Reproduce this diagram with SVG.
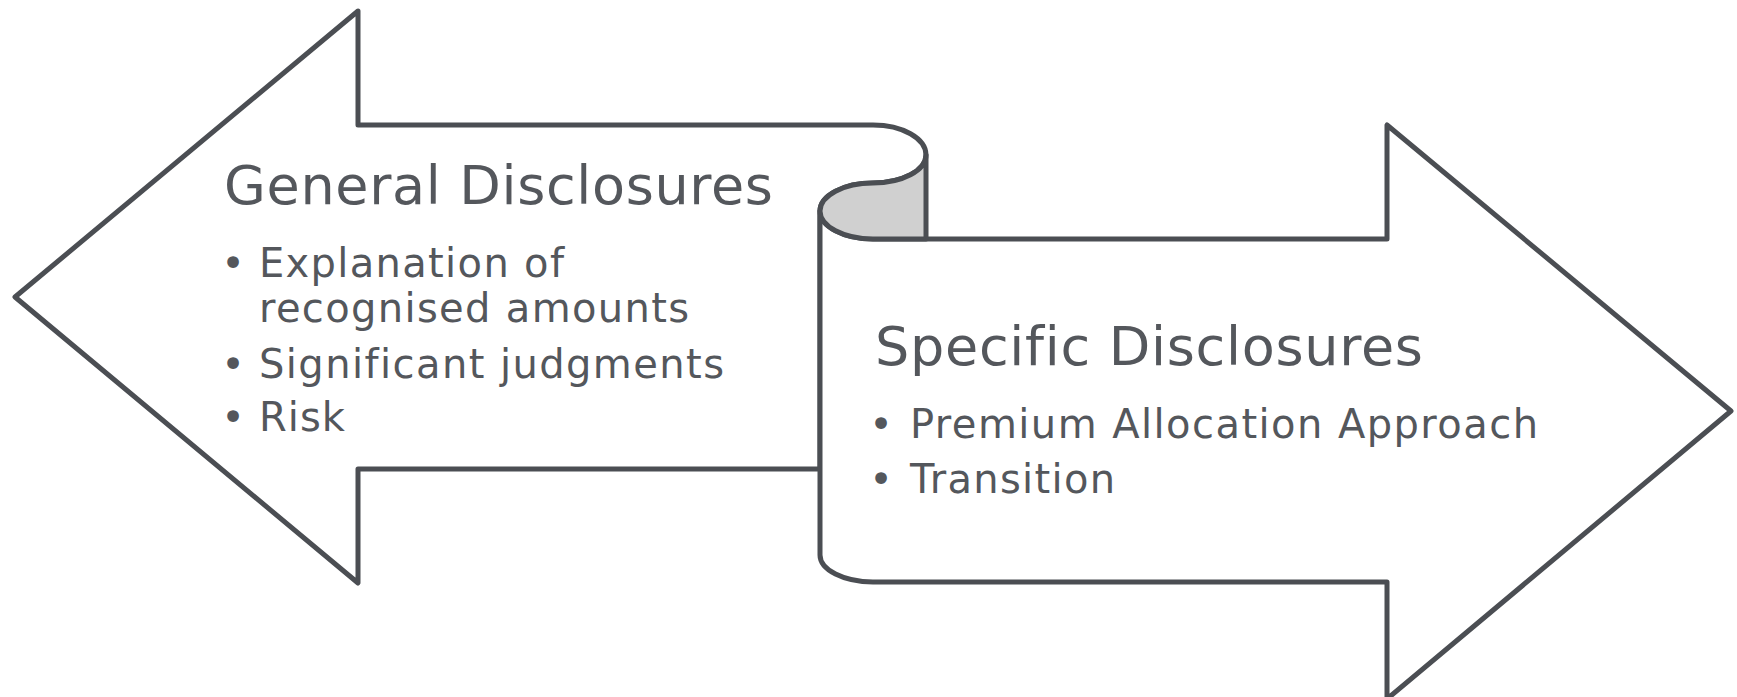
<svg xmlns="http://www.w3.org/2000/svg" width="1737" height="697" viewBox="0 0 1737 697">
<style>
.ln{fill:none;stroke:#4b4e53;stroke-width:5;stroke-linejoin:round;stroke-linecap:round}
.body{fill:#ffffff;stroke:#4b4e53;stroke-width:5;stroke-linejoin:round;stroke-linecap:round}
.curl{fill:#d0d0d0;stroke:#4b4e53;stroke-width:5;stroke-linejoin:round}
.t{font-family:"DejaVu Sans","Liberation Sans",sans-serif;fill:#54575c;font-variant-ligatures:none}
.h{font-size:54px}
.b{font-size:40px}
</style>
<rect width="1737" height="697" fill="#ffffff"/>
<g id="node-general">
<path class="body" d="M358,11 L15,297 L358,583 L358,469 L820,469 L820,211 A53,28 0 0 1 873,183 A53,28 0 0 0 926,155 A53,30 0 0 0 873,125 L358,125 Z"/>
<text class="t h" x="224" y="204" textLength="549" lengthAdjust="spacing">General Disclosures</text>
<text class="t b" x="233" y="277" text-anchor="middle">•</text>
<text class="t b" x="259" y="277" textLength="305" lengthAdjust="spacing">Explanation of</text>
<text class="t b" x="259" y="322" textLength="430" lengthAdjust="spacing">recognised amounts</text>
<text class="t b" x="233" y="378" text-anchor="middle">•</text>
<text class="t b" x="259" y="378" textLength="465" lengthAdjust="spacing">Significant judgments</text>
<text class="t b" x="233" y="431" text-anchor="middle">•</text>
<text class="t b" x="259" y="431" textLength="86" lengthAdjust="spacing">Risk</text>
</g>
<g id="node-specific">
<path class="body" d="M820,211 L820,555 A53,27 0 0 0 873,582 L1387,582 L1387,699 L1731,411 L1387,125 L1387,239 L873,239 A53,28 0 0 1 820,211 Z"/>
<path class="curl" d="M926,155 A53,28 0 0 1 873,183 A53,28 0 0 0 873,239 L926,239 Z"/>
<text class="t h" x="875" y="365" textLength="548" lengthAdjust="spacing">Specific Disclosures</text>
<text class="t b" x="881" y="438" text-anchor="middle">•</text>
<text class="t b" x="910" y="438" textLength="628" lengthAdjust="spacing">Premium Allocation Approach</text>
<text class="t b" x="881" y="493" text-anchor="middle">•</text>
<text class="t b" x="910" y="493" textLength="205" lengthAdjust="spacing">Transition</text>
</g>
<g id="connectors"></g>
</svg>
